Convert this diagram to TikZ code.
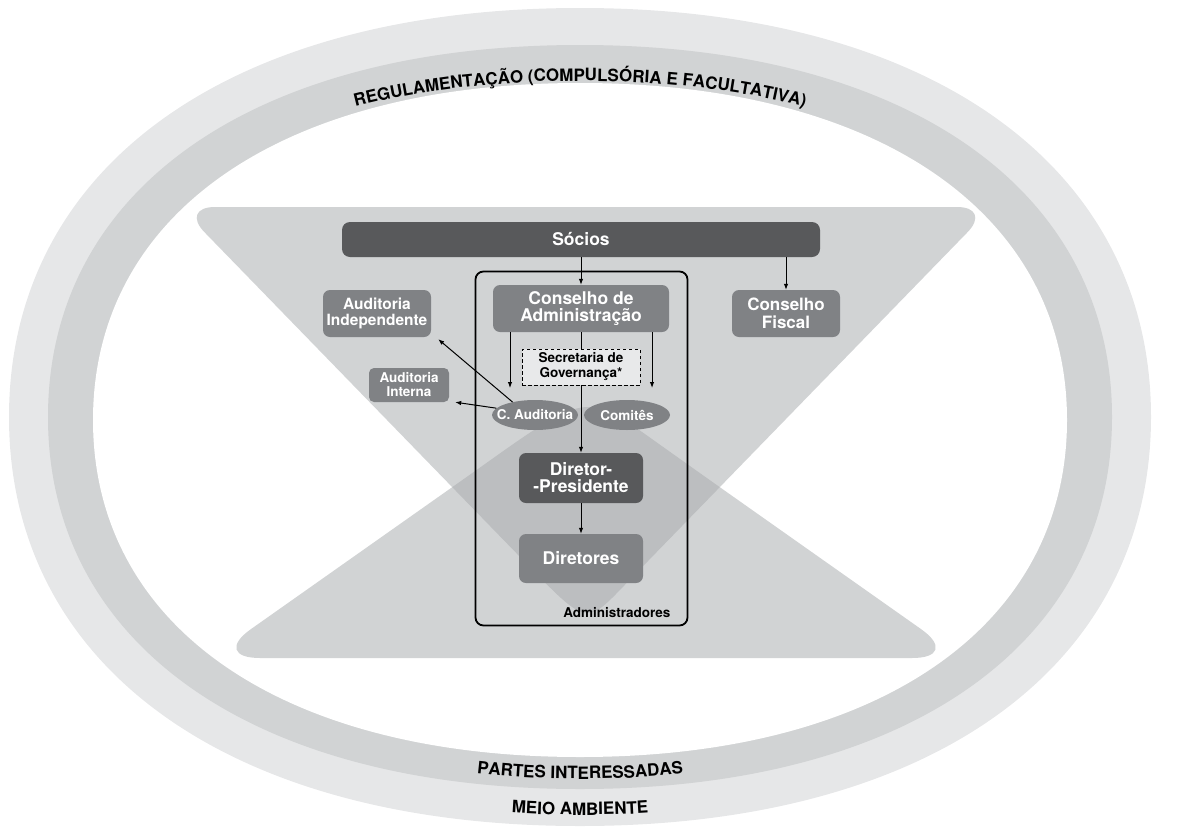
\documentclass[tikz,border=0pt]{standalone}
\usepackage{fontspec}
\setmainfont{TeX Gyre Heros}
\usetikzlibrary{arrows.meta,shapes.geometric,decorations.text}

\definecolor{ringLight}{RGB}{230,231,232}
\definecolor{ringMid}{RGB}{209,211,212}
\definecolor{wedgeDark}{RGB}{188,190,192}
\definecolor{boxGray}{RGB}{128,130,133}
\definecolor{boxDark}{RGB}{88,89,91}
\definecolor{noteFill}{RGB}{232,233,234}

% squarish oval: centre x, centre y, half width, half height
\newcommand{\squashedoval}[4]{(#1-#3,#2)
  .. controls (#1-#3,#2-0.6125*#4) and (#1-0.6125*#3,#2-#4) .. (#1,#2-#4)
  .. controls (#1+0.6125*#3,#2-#4) and (#1+#3,#2-0.6125*#4) .. (#1+#3,#2)
  .. controls (#1+#3,#2+0.6125*#4) and (#1+0.6125*#3,#2+#4) .. (#1,#2+#4)
  .. controls (#1-0.6125*#3,#2+#4) and (#1-#3,#2+0.6125*#4) .. (#1-#3,#2) -- cycle}
% the two wedges of the hourglass
\newcommand{\upperwedge}{(525,562) [rounded corners=35pt] -- (180,207) -- (992,207) -- (647,562)
  [sharp corners] .. controls (586,625) .. (525,562) -- cycle}
\newcommand{\lowerwedge}{(478,469) [rounded corners=50pt] -- (210,658) -- (962,658) -- (694,469)
  [sharp corners] .. controls (586,392) .. (478,469) -- cycle}
\newcommand{\ringfont}{\bfseries\fontsize{17}{17}\selectfont}

\begin{document}
\begin{tikzpicture}[x=1pt, y=-1pt,
    darkbox/.style={rectangle, rounded corners=7pt, fill=boxDark, text=white, align=center, inner sep=0pt},
    graybox/.style={rectangle, rounded corners=7pt, fill=boxGray, text=white, align=center, inner sep=0pt},
    grayoval/.style={ellipse, fill=boxGray, text=white, inner xsep=-8pt, inner ysep=4pt,
      minimum width=86pt, minimum height=30pt, font=\bfseries\fontsize{13.5}{14}\selectfont},
    link/.style={-{Latex[length=6pt,width=4.5pt]}, line width=1pt}]
  \useasboundingbox (0,0) rectangle (1196,827);

  % rings
  \fill[ringLight] \squashedoval{580}{417}{571}{409};
  \fill[ringMid] \squashedoval{580}{417}{532}{372};
  \fill[white] \squashedoval{580}{420}{487}{337};
  \path[decorate, decoration={text along path, text align=center,
      text={|\ringfont|REGULAMENTAÇÃO (COMPULSÓRIA E FACULTATIVA)}}]
    (60,418) .. controls (60,211.6) and (261.5,81) .. (580,81)
    .. controls (898.5,81) and (1100,211.6) .. (1100,418);
  \path[decorate, decoration={text along path, text align=center,
      text={|\ringfont|PARTES INTERESSADAS}}]
    (70,418) .. controls (70,639.1) and (267.6,779) .. (580,779)
    .. controls (892.4,779) and (1090,639.1) .. (1090,418);
  \path[decorate, decoration={text along path, text align=center,
      text={|\ringfont|MEIO AMBIENTE}}]
    (30,418) .. controls (30,661.2) and (243.1,815) .. (580,815)
    .. controls (916.9,815) and (1130,661.2) .. (1130,418);

  % hourglass
  \fill[ringMid] \upperwedge;
  \fill[ringMid] \lowerwedge;
  \begin{scope}
    \clip \upperwedge;
    \fill[wedgeDark] \lowerwedge;
  \end{scope}

  % boxes
  \node[darkbox, rounded corners=8pt, minimum width=478pt, minimum height=35pt,
    font=\bfseries\fontsize{17.5}{17}\selectfont] (socios) at (581,239.5) {Sócios};
  \node[draw=black, line width=1.8pt, rounded corners=8pt, minimum width=212pt,
    minimum height=354pt, inner sep=0pt] (adm) at (581.5,448.5) {};
  \node[anchor=base east, font=\bfseries\fontsize{13.5}{14}\selectfont] (admlabel) at (674,617) {Administradores};
  \node[graybox, minimum width=176pt, minimum height=47pt,
    font=\bfseries\fontsize{17.5}{16.5}\selectfont] (conselho) at (581,308.5) {Conselho de\\Administração};
  \node[draw=black, dash pattern=on 3.5pt off 2.5pt, line width=0.9pt, fill=noteFill,
    minimum width=118pt, minimum height=36pt, inner sep=0pt, align=center,
    font=\bfseries\fontsize{13.5}{15}\selectfont] (secretaria) at (581,367) {Secretaria de\\Governança*};
  \node[grayoval] (caud) at (535,415) {C. Auditoria};
  \node[grayoval] (comites) at (627,415) {Comitês};
  \node[darkbox, minimum width=124pt, minimum height=50pt,
    font=\bfseries\fontsize{17.5}{17}\selectfont] (dirpres) at (581,478) {Diretor-\\-Presidente};
  \node[graybox, minimum width=124pt, minimum height=49pt,
    font=\bfseries\fontsize{17.5}{17}\selectfont] (diretores) at (581,558.5) {Diretores};
  \node[graybox, minimum width=108pt, minimum height=47pt,
    font=\bfseries\fontsize{15.5}{16}\selectfont] (audind) at (377,313.5) {Auditoria\\Independente};
  \node[graybox, rounded corners=5pt, minimum width=80pt, minimum height=34pt,
    font=\bfseries\fontsize{13.5}{14}\selectfont] (audint) at (409,385) {Auditoria\\Interna};
  \node[graybox, minimum width=108pt, minimum height=47pt,
    font=\bfseries\fontsize{17}{18}\selectfont] (fiscal) at (786,313.5) {Conselho\\Fiscal};

  % reporting lines
  \coordinate (toaud) at (510,388);
  \coordinate (tocom) at (652,388);
  \draw[link] (socios) -- (conselho);
  \draw[link] (socios.south -| fiscal) -- (fiscal);
  \draw[line width=1pt] (conselho) -- (secretaria);
  \draw[link] (conselho.south -| toaud) -- (toaud);
  \draw[link] (conselho.south -| tocom) -- (tocom);
  \draw[link] (secretaria) -- (dirpres);
  \draw[link] (dirpres) -- (diretores);
  \draw[link] (caud.150) -- ([xshift=7pt,yshift=-2pt]audind.south east);
  \draw[link] (caud.170) -- ([xshift=6pt]audint.south east);
\end{tikzpicture}
\end{document}
